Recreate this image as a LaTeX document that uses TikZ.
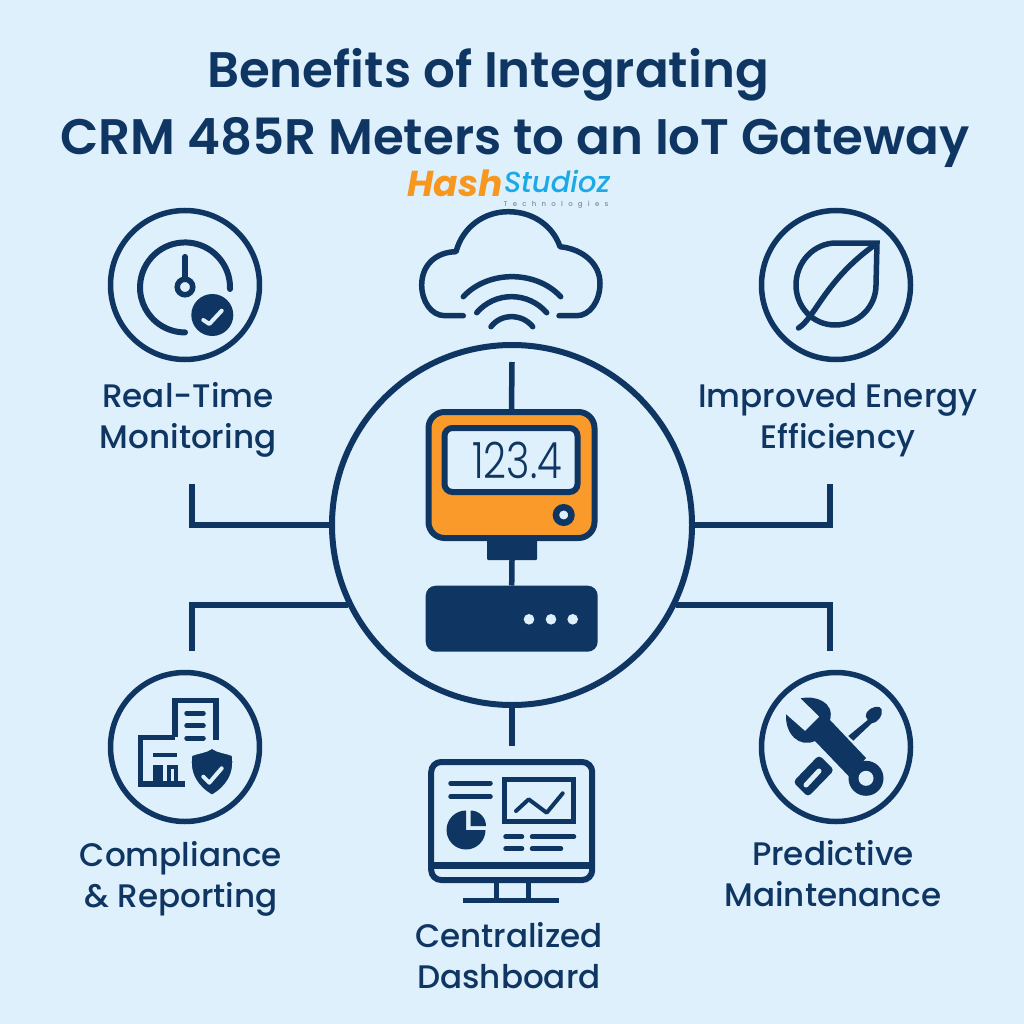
\documentclass[tikz,border=0pt]{standalone}
\usepackage{fontspec}
\setmainfont{Poppins}[UprightFont=* Medium,BoldFont=* SemiBold,ItalicFont=* Medium Italic,BoldItalicFont=* Bold Italic]
\newfontfamily\lcdfont{Poppins Light}
\usetikzlibrary{positioning}
\definecolor{navy}{HTML}{0F3663}
\definecolor{paper}{HTML}{DEF0FB}
\definecolor{meterorange}{HTML}{F99A2B}
\definecolor{logoorange}{HTML}{F7971E}
\definecolor{logoblue}{HTML}{1CA9E6}
\definecolor{logogray}{HTML}{7F8C9B}
\tikzset{
  iconring/.style={circle, draw=navy, line width=5.5pt, inner sep=0pt, minimum size=149pt},
  benefit/.style={text=navy, font=\fontsize{32.6}{41}\selectfont, align=center, inner sep=0pt},
  heading/.style={text=navy, font=\bfseries\fontsize{49.9}{60}\selectfont, inner sep=0pt},
  wire/.style={draw=navy, line width=5.5pt},
  stroke/.style={draw=navy, line width=5.5pt, line cap=round, line join=round},
  thinstroke/.style={draw=navy, line width=4.5pt, line cap=round, line join=round},
  tick/.style={draw=paper, line width=4pt, line cap=round, line join=round},
}
\begin{document}
\begin{tikzpicture}[x=1pt, y=-1pt]

\pgfdeclarelayer{bg}    % paper and connectors go behind the boxes
\pgfsetlayers{bg,main}

\useasboundingbox (0,0) rectangle (1024,1024);

% title and logo
\node (title1)[heading] at (488,75) {Benefits of Integrating};
\node (title2)[heading] at (515,143) {CRM 485R Meters to an IoT Gateway};
\node (logohash)[text=logoorange, font=\bfseries\itshape\fontsize{36}{36}\selectfont, inner sep=0pt] at (455,183) {Hash};
\node (logostudioz)[text=logoblue, font=\itshape\fontsize{29}{29}\selectfont, inner sep=0pt, anchor=base] at (557,193) {Studioz};
\node (logotech)[text=logogray, font=\addfontfeature{LetterSpace=75}\fontsize{7}{7}\selectfont, inner sep=0pt, anchor=base] at (556,207) {Technologies};

% centre
\node (hub)[circle, draw=navy, line width=6pt, inner sep=0pt, minimum size=360pt] at (512,525) {};
\node (meter)[rectangle, rounded corners=16pt, draw=navy, fill=meterorange, line width=6pt, minimum width=166pt, minimum height=126pt] at (511.5,475) {};
\node (display)[rectangle, rounded corners=8pt, draw=navy, fill=paper, line width=6pt, minimum width=133pt, minimum height=64pt] at (511,460) {};
\node (reading)[text=navy, inner sep=0pt, font=\lcdfont\fontsize{50}{50}\selectfont] at (517,460) {\scalebox{.8}[1]{123.4}};
\node (knob)[circle, draw=navy, fill=paper, line width=6.5pt, inner sep=0pt, minimum size=15.5pt] at (563.7,515) {};
\node (plug)[rectangle, rounded corners=1pt, fill=navy, minimum width=50pt, minimum height=22pt] at (512,549) {};
\node (gateway)[rectangle, rounded corners=10pt, fill=navy, minimum width=172pt, minimum height=66pt] at (511.7,618.7) {};
\foreach \dotx in {529,551,572.7}
  \fill[paper] (\dotx,619.3) circle (5.3);

% benefit rings
\node (gauge)[iconring] at (185,285) {};
\node (leaf)[iconring] at (836,285) {};
\node (office)[iconring] at (185,747) {};
\node (tools)[iconring] at (836,747) {};

% benefit labels
\node (lblmon)[benefit] at (188,420) {Real-Time\\Monitoring};
\node (lblenergy)[benefit] at (838,420) {Improved Energy\\Efficiency};
\node (lblcomp)[benefit] at (181,879) {Compliance\\\& Reporting};
\node (lblmaint)[benefit] at (833,874) {Predictive\\Maintenance};
\node (lbldash)[benefit] at (509,956) {Centralized\\Dashboard};

% free ends of the connectors
\coordinate (endmon) at (192,484);
\coordinate (endenergy) at (830,484);
\coordinate (endcomp) at (192,651);
\coordinate (endmaint) at (830,651);
\coordinate (endcloud) at (512,362);
\coordinate (enddash) at (512,746);

\begin{pgfonlayer}{bg}
\fill[paper] (0,0) rectangle (1024,1024);
\draw[wire] (endmon) |- (hub.west);
\draw[wire] (endenergy) |- (hub.east);
\draw[wire] (endcomp) |- (hub.206.4);
\draw[wire] (endmaint) |- (hub.-26.4);
\draw[wire] (endcloud) -- (meter.north);
\draw[wire] (hub.south) -- (enddash);
\draw[wire] (plug.south) -- (gateway.north);
\end{pgfonlayer}

% cloud and signal
\draw[stroke] (463.3,315.7) -- (445,315.7) .. controls (431,315.7) and (421.7,301) .. (421.7,285)
  .. controls (421.7,265) and (436,252) .. (456,251.7)
  .. controls (463,226) and (485,211.7) .. (508.3,211.7)
  .. controls (533,211.7) and (553,226) .. (560,246.7)
  .. controls (583,249) and (600,264) .. (600,283.3)
  .. controls (600,301) and (590,315.7) .. (576.7,315.7) -- (559,315.7);
\draw[stroke] (463.3,296.7) .. controls (488,270) and (536,270) .. (560.7,296.7);
\draw[stroke] (476.7,312.7) .. controls (495,291.3) and (528,291.3) .. (546.7,312.7);
\draw[stroke] (491,326.7) .. controls (501,313.3) and (522,313.3) .. (532.7,326.7);

% gauge icon
\draw[stroke, line width=6pt] (230,289) arc[start angle=2, end angle=-270, radius=45];
\draw[stroke] (185,256.7) -- (185,280);
\node (gaugepin)[circle, draw=navy, fill=paper, line width=5.5pt, inner sep=0pt, minimum size=15.5pt] at (185,287) {};
\node (gaugecheck)[circle, fill=navy, inner sep=0pt, minimum size=42pt] at (212.3,315) {};
\draw[tick] (203.3,320) -- (209.3,324) -- (221.7,310.7);

% leaf icon
\draw[draw=navy, line width=5.5pt, line join=miter] (877,243) -- (836,243)
  .. controls (814,243) and (796,262) .. (796,285)
  .. controls (796,307) and (813,325) .. (835,325)
  .. controls (858,325) and (876,307) .. (876,285) -- cycle;
\draw[stroke] (798.5,328) .. controls (815,318) and (825,280) .. (876,244);

% office icon
\draw[draw=navy, line width=5.5pt, line join=miter] (175,737.3) -- (175,700.7) -- (216,700.7) -- (216,740);
\draw[draw=navy, line width=5.5pt, line join=miter] (175,737.3) -- (140.7,737.3) -- (140.7,784) -- (185,784);
\foreach \rowy in {713.3,725.7,738.3}
  \draw[thinstroke] (186.5,\rowy) -- (203.5,\rowy);
\draw[thinstroke, line cap=butt] (153.3,755) -- (177.3,755);
\fill[navy] (153.3,765) rectangle (163.3,784);
\draw[draw=navy, line width=4pt] (169,784) -- (169,767) -- (176,767) -- (176,784);
\draw[fill=navy, draw=paper, line width=2.5pt] (212,747.5) .. controls (218,752) and (226,752) .. (233,755)
  .. controls (236,775) and (226,788) .. (212,796)
  .. controls (198,788) and (188,775) .. (191,755)
  .. controls (198,752) and (206,752) .. (212,747.5) -- cycle;
\draw[tick] (203.3,776.7) -- (209.3,782.7) -- (221.7,768.3);

% monitor icon
\node (monitor)[rectangle, rounded corners=10pt, draw=navy, line width=6pt, minimum width=161pt, minimum height=118pt] at (511.7,821) {};
\draw[draw=navy, line width=7pt] (428.3,865.5) -- (595,865.5);
\draw[draw=navy, line width=5pt] (496,883) -- (496,900.7);
\draw[draw=navy, line width=5pt] (528.3,883) -- (528.3,900.7);
\draw[draw=navy, line width=5pt] (463.3,900.7) -- (559.3,900.7);
\draw[thinstroke] (450.5,783.3) -- (490.5,783.3);
\draw[thinstroke] (450.5,796.7) -- (490.5,796.7);
\fill[navy] (466,830) -- (466,810.5) arc[start angle=-90, end angle=-360, radius=19.5] -- cycle;
\fill[navy] (470.5,826) -- (470.5,810.5) arc[start angle=-90, end angle=0, radius=15.5] -- cycle;
\draw[draw=navy, line width=5pt] (504.8,779.2) rectangle (573.5,821.5);
\draw[draw=navy, line width=4pt, line cap=round, line join=round] (516,811) -- (528.7,799.3) -- (546.7,812.7) -- (562.7,793.3);
\draw[thinstroke] (505.5,836.7) -- (522,836.7);
\draw[thinstroke] (532,836.7) -- (574,836.7);
\draw[thinstroke] (505.5,848.7) -- (522,848.7);
\draw[thinstroke] (532,848.7) -- (561,848.7);

% tools icon
\fill[navy] (800.7,698.3) -- (819.3,716.7) -- (805,731) -- (786,714.3)
  .. controls (785,735) and (800,748) .. (815,741) -- (849.5,777) -- (866,758) -- (830,720)
  .. controls (835,702) and (815,695) .. (800.7,698.3) -- cycle;
\fill[navy] (866,778.3) circle (17.5);
\fill[paper] (866,778.3) circle (7.5);
\fill[navy] (848.3,736) -- (853.3,740.7) -- (871.7,723.3) .. controls (879,722) and (883,715) .. (881.7,709.3)
  .. controls (880,705) and (872,706) .. (867,712) .. controls (865,716) and (866,718) .. (867.7,720) -- cycle;
\fill[navy, rounded corners=4pt] (819,755) -- (834.3,770) -- (808,797) -- (793,782) -- cycle;
\draw[draw=paper, line width=5pt, line cap=round] (806,785) -- (819,771);

\end{tikzpicture}
\end{document}
